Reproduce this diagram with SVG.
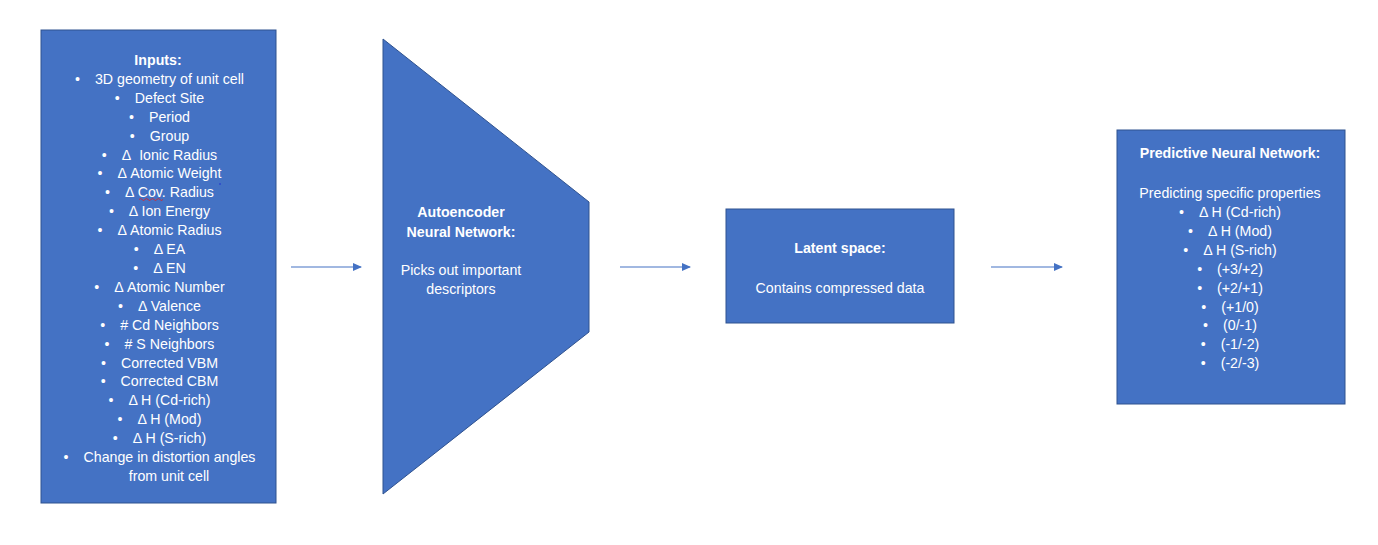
<svg xmlns="http://www.w3.org/2000/svg" width="1378" height="545" viewBox="0 0 1378 545">
<defs>
<marker id="arr" markerWidth="9" markerHeight="8" refX="8" refY="4" orient="auto" markerUnits="userSpaceOnUse">
<path d="M0,0 L9,4 L0,8 Z" fill="#4472C4"/>
</marker>
<style>
.shape{fill:#4472C4;stroke:#2F528F;stroke-width:1}
text{font-family:"Liberation Sans",Arial,sans-serif;font-size:14.2px;fill:#ffffff;text-anchor:middle}
.b{font-weight:bold}
.conn{stroke:#4472C4;stroke-width:1.2;fill:none}
</style>
</defs>
<rect width="1378" height="545" fill="#ffffff"/>
<g id="connectors">
<line class="conn" x1="291" y1="267" x2="361" y2="267" marker-end="url(#arr)"/>
<line class="conn" x1="620" y1="267" x2="690" y2="267" marker-end="url(#arr)"/>
<line class="conn" x1="991" y1="267" x2="1062" y2="267" marker-end="url(#arr)"/>
</g>
<g id="inputs">
<rect class="shape" x="41" y="30" width="235" height="473"/>
<text class="b" x="158" y="65">Inputs:</text>
<text x="159.5" y="84">•<tspan dx="15">3D geometry of unit cell</tspan></text>
<text x="159.5" y="103">•<tspan dx="15">Defect Site</tspan></text>
<text x="159.5" y="122">•<tspan dx="15">Period</tspan></text>
<text x="159.5" y="141">•<tspan dx="15">Group</tspan></text>
<text x="159.5" y="160">•<tspan dx="15">Δ&#160; Ionic Radius</tspan></text>
<text x="159.5" y="178">•<tspan dx="15">Δ Atomic Weight</tspan></text>
<text x="159.5" y="197">•<tspan dx="15">Δ Cov. Radius</tspan></text>
<text x="159.5" y="216">•<tspan dx="15">Δ Ion Energy</tspan></text>
<text x="159.5" y="235">•<tspan dx="15">Δ Atomic Radius</tspan></text>
<text x="159.5" y="254">•<tspan dx="15">Δ EA</tspan></text>
<text x="159.5" y="273">•<tspan dx="15">Δ EN</tspan></text>
<text x="159.5" y="292">•<tspan dx="15">Δ Atomic Number</tspan></text>
<text x="159.5" y="311">•<tspan dx="15">Δ Valence</tspan></text>
<text x="159.5" y="330">•<tspan dx="15"># Cd Neighbors</tspan></text>
<text x="159.5" y="349">•<tspan dx="15"># S Neighbors</tspan></text>
<text x="159.5" y="368">•<tspan dx="15">Corrected VBM</tspan></text>
<text x="159.5" y="386">•<tspan dx="15">Corrected CBM</tspan></text>
<text x="159.5" y="405">•<tspan dx="15">Δ H (Cd-rich)</tspan></text>
<text x="159.5" y="424">•<tspan dx="15">Δ H (Mod)</tspan></text>
<text x="159.5" y="443">•<tspan dx="15">Δ H (S-rich)</tspan></text>
<text x="159.5" y="462">•<tspan dx="15">Change in distortion angles</tspan></text>
<text x="169" y="481">from unit cell</text>
<path d="M139,199.5 q1.5,-2 3,0 t3,0 t3,0 t3,0 t3,0 t3,0 t3,0 t3,0" fill="none" stroke="#e02020" stroke-width="0.8"/>
<circle cx="220" cy="184" r="0.8" fill="#1a2bd0"/>
</g>
<g id="autoencoder">
<polygon class="shape" points="383,39 589,202 589,332 383,494"/>
<text class="b" x="461" y="217">Autoencoder</text>
<text class="b" x="461" y="237">Neural Network:</text>
<text x="461" y="275">Picks out important</text>
<text x="461" y="294">descriptors</text>
</g>
<g id="latent">
<rect class="shape" x="726" y="209" width="228" height="114"/>
<text class="b" x="840" y="253">Latent space:</text>
<text x="840" y="293">Contains compressed data</text>
</g>
<g id="predictive">
<rect class="shape" x="1117" y="130" width="228" height="274"/>
<text class="b" x="1230" y="158">Predictive Neural Network:</text>
<text x="1230" y="198">Predicting specific properties</text>
<text x="1230" y="217">•<tspan dx="15">Δ H (Cd-rich)</tspan></text>
<text x="1230" y="236">•<tspan dx="15">Δ H (Mod)</tspan></text>
<text x="1230" y="255">•<tspan dx="15">Δ H (S-rich)</tspan></text>
<text x="1230" y="274">•<tspan dx="15">(+3/+2)</tspan></text>
<text x="1230" y="293">•<tspan dx="15">(+2/+1)</tspan></text>
<text x="1230" y="312">•<tspan dx="15">(+1/0)</tspan></text>
<text x="1230" y="330">•<tspan dx="15">(0/-1)</tspan></text>
<text x="1230" y="349">•<tspan dx="15">(-1/-2)</tspan></text>
<text x="1230" y="368">•<tspan dx="15">(-2/-3)</tspan></text>
</g>
</svg>
